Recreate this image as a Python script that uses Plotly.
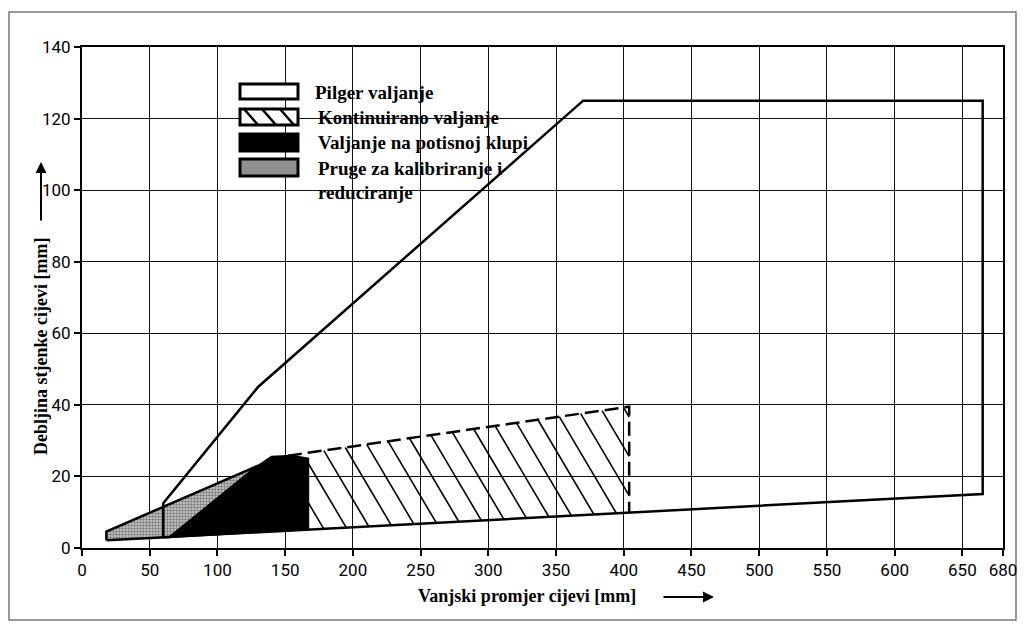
import plotly.graph_objects as go

# ---------------- data ----------------
x_ticks = [0, 50, 100, 150, 200, 250, 300, 350, 400, 450, 500, 550, 600, 650, 680]
y_ticks = [0, 20, 40, 60, 80, 100, 120, 140]

# Pilger valjanje (outline)
pilger_x = [60, 60, 130, 370, 665, 665, 60]
pilger_y = [3.0, 12.5, 45, 125, 125, 15.1, 3.0]

# Pruge za kalibriranje i reduciranje (dotted grey)
gray_x = [18, 18, 130, 65, 18]
gray_y = [2.2, 4.6, 23, 3.1, 2.2]

# Valjanje na potisnoj klupi (black)
black_x = [65, 130, 140, 155, 167, 167, 65]
black_y = [3.1, 23, 25.5, 25.8, 25, 5.2, 3.1]

# Kontinuirano valjanje (hatched): left/right x, top and bottom edge values
hatch_left, hatch_right = 167, 404
hatch_top = [26.6, 39.5]      # at left, right
hatch_bottom = [5.2, 9.9]     # at left, right
dash_x = [152, 404, 404]
dash_y = [25.8, 39.5, 9.9]

legend_labels = ["Pilger valjanje", "Kontinuirano valjanje",
                 "Valjanje na potisnoj klupi", "Pruge za kalibriranje i", "reduciranje"]

# ---------------- hatch lines clipped to the hatched area ----------------
HATCH_SLOPE = -0.64     # mm per mm (diagonal)
HATCH_STEP = 15.8       # spacing along the top edge


def edge(vals):
    b = (vals[1] - vals[0]) / (hatch_right - hatch_left)
    a = vals[0] - b * hatch_left
    return a, b


a1, b1 = edge(hatch_top)
a2, b2 = edge(hatch_bottom)
hx, hy = [], []
xt = hatch_left - 20
while xt < hatch_right + 40:
    c = a1 + b1 * xt - HATCH_SLOPE * xt
    lo = max(hatch_left, (c - a1) / (b1 - HATCH_SLOPE))
    hi = min(hatch_right, (c - a2) / (b2 - HATCH_SLOPE))
    if hi - lo > 0.5:
        hx += [lo, hi, None]
        hy += [HATCH_SLOPE * lo + c, HATCH_SLOPE * hi + c, None]
    xt += HATCH_STEP

# ---------------- layout helpers (page pixel coords, body margin 8px) ----------------
OFF = 8
W, H = 1010, 614
PL, PR, PT, PB = 82, 1003, 47, 548          # plot area in page pixels
PW, PH = PR - PL, PB - PT
mL, mT = PL - OFF, PT - OFF
mR, mB = W - (PR - OFF), H - (PB - OFF)


def px(x):
    return (x - PL) / PW


def py(y):
    return (PB - y) / PH


tick_font = dict(family="Liberation Sans Narrow, Roboto, DejaVu Sans", size=17, color="black")
serif = "Liberation Serif, Times New Roman, serif"

fig = go.Figure()

fig.add_trace(go.Scatter(
    x=gray_x, y=gray_y, mode="lines", fill="toself", fillcolor="#bdbdbd",
    fillpattern=dict(shape=".", size=3, solidity=0.5, fgcolor="#222222", bgcolor="#cfcfcf"),
    line=dict(color="black", width=2.5), showlegend=False, hoverinfo="skip"))

fig.add_trace(go.Scatter(
    x=hx, y=hy, mode="lines", line=dict(color="black", width=1.6),
    showlegend=False, hoverinfo="skip"))

fig.add_trace(go.Scatter(
    x=dash_x, y=dash_y, mode="lines",
    line=dict(color="black", width=2.5, dash="14px,6px"), showlegend=False, hoverinfo="skip"))

fig.add_trace(go.Scatter(
    x=black_x, y=black_y, mode="lines", fill="toself", fillcolor="black",
    line=dict(color="black", width=2), showlegend=False, hoverinfo="skip"))

fig.add_trace(go.Scatter(
    x=pilger_x, y=pilger_y, mode="lines",
    line=dict(color="black", width=2.5), showlegend=False, hoverinfo="skip"))

shapes = []
# outer frame
shapes.append(dict(type="rect", xref="paper", yref="paper",
                   x0=px(9), x1=px(1016), y0=py(620), y1=py(12),
                   line=dict(color="#777777", width=1.5), fillcolor="rgba(0,0,0,0)", layer="below"))
# white legend background (hides grid lines)
for (a, b, c, d) in [(224, 424, 50, 198), (424, 500, 104, 186), (500, 540, 130, 156)]:
    shapes.append(dict(type="rect", xref="paper", yref="paper",
                       x0=px(a), x1=px(b), y0=py(d), y1=py(c),
                       line=dict(width=0), fillcolor="white", layer="between"))

# legend symbols
sx0, sx1 = 240, 298
sym_rows = [(84, 99), (109, 125), (134, 151), (159, 176)]
fills = ["white", "white", "black", "#8f8f8f"]
for (y0, y1), fc in zip(sym_rows, fills):
    shapes.append(dict(type="rect", xref="paper", yref="paper",
                       x0=px(sx0), x1=px(sx1), y0=py(y1), y1=py(y0),
                       line=dict(color="black", width=3), fillcolor=fc, layer="above"))
# hatch lines in symbol 2
hy0, hy1 = sym_rows[1]
for k in range(3):
    xa = sx0 + 4 + k * 18
    shapes.append(dict(type="line", xref="paper", yref="paper",
                       x0=px(xa), x1=px(xa + 14), y0=py(hy0), y1=py(hy1),
                       line=dict(color="black", width=2.5), layer="above"))

annotations = []
text_rows = [(313, 92), (316, 118), (316, 143), (316, 168), (316, 192)]
for (tx, ty), lab in zip(text_rows, legend_labels):
    annotations.append(dict(x=px(tx), y=py(ty), xref="paper", yref="paper", text="<b>" + lab + "</b>",
                            showarrow=False, xanchor="left", yanchor="middle",
                            font=dict(family=serif, size=19, color="black")))

# axis titles
annotations.append(dict(x=px(41), y=py(347), xref="paper", yref="paper",
                        text="<b>Debljina stjenke cijevi [mm]</b>", textangle=-90, showarrow=False,
                        xanchor="center", yanchor="middle", font=dict(family=serif, size=18, color="black")))
annotations.append(dict(x=px(41), y=py(162), xref="paper", yref="paper", text="", showarrow=True,
                        ax=0, ay=60, arrowhead=2, arrowsize=1.1, arrowwidth=2, arrowcolor="black"))
annotations.append(dict(x=px(527), y=py(596), xref="paper", yref="paper",
                        text="<b>Vanjski promjer cijevi [mm]</b>", showarrow=False,
                        xanchor="center", yanchor="middle", font=dict(family=serif, size=18, color="black")))
annotations.append(dict(x=px(714), y=py(597), xref="paper", yref="paper", text="", showarrow=True,
                        ax=-52, ay=0, arrowhead=2, arrowsize=1.1, arrowwidth=2, arrowcolor="black"))

fig.update_layout(
    width=W, height=H, margin=dict(l=mL, r=mR, t=mT, b=mB, autoexpand=False),
    paper_bgcolor="white", plot_bgcolor="white",
    shapes=shapes, annotations=annotations, showlegend=False,
    xaxis=dict(range=[0, 680], tickvals=x_ticks, ticktext=[str(v) for v in x_ticks],
               showgrid=True, gridcolor="#111111", gridwidth=1.4, zeroline=False,
               showline=True, linecolor="black", linewidth=2, mirror=True,
               ticks="outside", ticklen=6, tickwidth=1.5, tickcolor="black", tickfont=tick_font,
               ticklabeloverflow="allow", automargin=False),
    yaxis=dict(range=[0, 140], tickvals=y_ticks, ticktext=[str(v) for v in y_ticks],
               showgrid=True, gridcolor="#111111", gridwidth=1.4, zeroline=False,
               showline=True, linecolor="black", linewidth=2, mirror=True,
               ticks="outside", ticklen=6, tickwidth=1.5, tickcolor="black", tickfont=tick_font,
               automargin=False),
)

fig.write_html("out.html")
